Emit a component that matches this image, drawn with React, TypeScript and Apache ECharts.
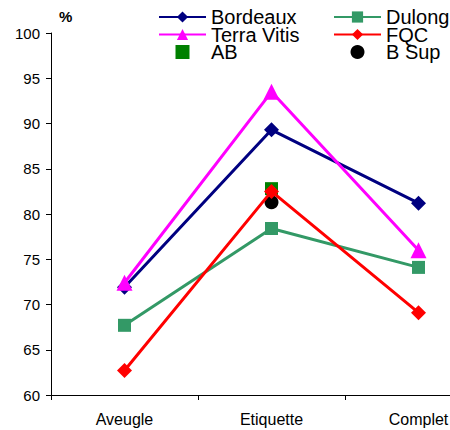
import React, { useEffect, useRef } from "react";
import * as echarts from "echarts";

const categories = ["Aveugle", "Etiquette", "Complet"];
const bordeaux = [71.9, 89.3, 81.2];
const terraVitis = [72.4, 93.5, 76.0];
const dulong = [67.7, 78.4, 74.1];
const fqc = [62.7, 82.5, 69.1];
const ab = [null, 82.8, null];
const bSup = [null, 81.3, null];
const yTicks = { min: 60, max: 100, step: 5 };

const FONT = "Liberation Sans, Arial, sans-serif";
const SQUARE = "path://M0,0L1,0L1,1L0,1Z";

export default function App() {
  const ref = useRef<HTMLDivElement>(null);

  useEffect(() => {
    document.body.style.margin = "0";
    if (!ref.current) return;
    const chart = echarts.init(ref.current, undefined, { renderer: "svg" });

    const lineSeries = (name: string, data: number[], color: string, symbol: string, size: number) => ({
      name,
      type: "line",
      data,
      symbol,
      symbolSize: size,
      symbolKeepAspect: true,
      lineStyle: { color, width: 3 },
      itemStyle: { color, opacity: 1 },
    });

    const legendBase = {
      orient: "vertical",
      top: 7,
      padding: 0,
      itemWidth: 47,
      itemHeight: 14,
      itemGap: -2.5,
      textStyle: { fontFamily: FONT, fontSize: 20, color: "#000" },
    };

    chart.setOption({
      animation: false,
      backgroundColor: "#ffffff",
      // the plot runs past the right edge of the visible area, so the last category sits near it
      grid: { left: 51, top: 33, height: 362, width: 441 },
      legend: [
        { ...legendBase, data: ["Bordeaux", "Terra Vitis", "AB"], left: 158 },
        { ...legendBase, data: ["Dulong", "FQC", "B Sup"], left: 333 },
      ],
      graphic: [
        {
          type: "text",
          left: 59,
          top: 9,
          style: { text: "%", fontFamily: FONT, fontSize: 15, fontWeight: "bold", fill: "#000" },
        },
      ],
      xAxis: {
        type: "category",
        data: categories,
        boundaryGap: true,
        axisLine: { lineStyle: { color: "#000", width: 1 } },
        axisTick: { show: true, length: 5, lineStyle: { color: "#000" } },
        axisLabel: { fontFamily: FONT, fontSize: 16, color: "#000", margin: 16 },
        splitLine: { show: false },
      },
      yAxis: {
        type: "value",
        min: yTicks.min,
        max: yTicks.max,
        interval: yTicks.step,
        axisLine: { show: true, lineStyle: { color: "#000", width: 1 } },
        axisTick: { show: true, length: 5, lineStyle: { color: "#000" } },
        axisLabel: { fontFamily: FONT, fontSize: 15, color: "#000", margin: 11 },
        splitLine: { show: false },
      },
      series: [
        lineSeries("Bordeaux", bordeaux, "#000080", "diamond", 15),
        lineSeries("Dulong", dulong, "#339966", SQUARE, 13),
        lineSeries("Terra Vitis", terraVitis, "#ff00ff", "triangle", 16),
        lineSeries("FQC", fqc, "#ff0000", "diamond", 15),
        {
          name: "AB",
          type: "scatter",
          data: ab,
          symbol: SQUARE,
          symbolKeepAspect: true,
          symbolSize: 13,
          itemStyle: { color: "#008000", opacity: 1 },
        },
        {
          name: "B Sup",
          type: "scatter",
          data: bSup,
          symbol: "circle",
          symbolSize: 14,
          itemStyle: { color: "#000000", opacity: 1 },
        },
      ],
    });

    return () => chart.dispose();
  }, []);

  return (
    <div style={{ width: 450, height: 430, overflow: "hidden" }}>
      <div ref={ref} style={{ width: 500, height: 430 }} />
    </div>
  );
}
